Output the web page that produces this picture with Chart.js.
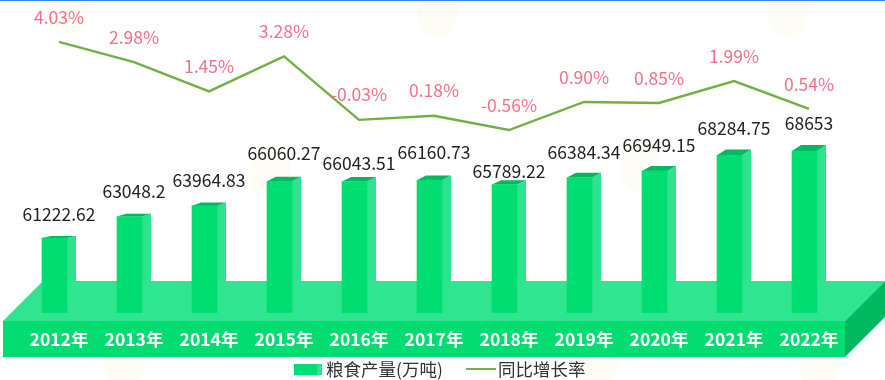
<!DOCTYPE html>
<html>
<head>
<meta charset="utf-8">
<title>粮食产量</title>
<script src="https://cdn.jsdelivr.net/npm/chart.js@4/dist/chart.umd.min.js"></script>
<style>
  html, body { margin: 0; padding: 0; background: #fff; overflow: hidden; }
  #topLine { position: absolute; left: 0; top: 0; width: 885px; height: 1px; background: #3b86f0; }
  #grainChart { display: block; }
</style>
</head>
<body>
<canvas id="grainChart" width="885" height="380"></canvas>
<div id="topLine"></div>
<script>
const years = ["2012年", "2013年", "2014年", "2015年", "2016年", "2017年", "2018年", "2019年", "2020年", "2021年", "2022年"];
const grainOutput = [61222.62, 63048.2, 63964.83, 66060.27, 66043.51, 66160.73, 65789.22, 66384.34, 66949.15, 68284.75, 68653];
const growthRate = [4.03, 2.98, 1.45, 3.28, -0.03, 0.18, -0.56, 0.90, 0.85, 1.99, 0.54];
// how far each output label sits above its bar
const outputLabelLift = [24, 25, 26, 28, 18, 28, 13, 25, 26, 27, 28];
// pale bee watermark spots
const beeSpots = [[68, 8], [270, 172], [438, 10], [640, 165], [788, 10], [820, 362], [125, 362], [600, 358]];

const FONT = '"Noto Sans CJK SC", "Noto Sans", sans-serif';
const FRONT = "#00de72";
const SIDE = "#2fe38e";
const ROOF = "#00b85f";
const LINE = "#72b043";

function fillPoly(ctx, color, pts) {
  ctx.fillStyle = color;
  ctx.beginPath();
  pts.forEach((p, i) => (i ? ctx.lineTo(p[0], p[1]) : ctx.moveTo(p[0], p[1])));
  ctx.closePath();
  ctx.fill();
}

const stagePlugin = {
  id: "stage",
  // bars sit left of the category centre, the side face fills the rest
  afterDatasetsUpdate(chart) {
    chart.getDatasetMeta(0).data.forEach((bar) => { bar.x -= 4.5; });
  },
  // runs before the axes so the year labels land on top of the floor
  beforeDraw(chart) {
    const { ctx, chartArea: a } = chart;
    const floorBack = a.bottom - 32;
    const floorFront = a.bottom + 8;
    const floorLow = a.bottom + 44;
    const left = a.left - 18.5;
    const right = a.right - 1.5;
    const depth = 40;

    ctx.save();
    beeSpots.forEach(([x, y]) => {
      ctx.fillStyle = "#fdfcf5";
      ctx.beginPath();
      ctx.ellipse(x, y, 20, 28, 0.2, 0, Math.PI * 2);
      ctx.fill();
    });

    fillPoly(ctx, "#30e58f", [[left, floorFront], [left + depth, floorBack], [right + depth, floorBack], [right, floorFront]]);
    fillPoly(ctx, "#02dc71", [[left, floorFront], [right, floorFront], [right, floorLow], [left, floorLow]]);
    fillPoly(ctx, ROOF, [[right, floorFront], [right + depth, floorBack], [right + depth, floorLow - depth], [right, floorLow]]);

    chart.getDatasetMeta(0).data.forEach((bar) => {
      const l = bar.x - bar.width / 2;
      const r = bar.x + bar.width / 2;
      const rise = (floorBack - bar.y) / 22;
      fillPoly(ctx, SIDE, [[r, bar.y], [r + 9, bar.y - rise], [r + 9, floorBack], [r, floorBack]]);
      fillPoly(ctx, ROOF, [[l, bar.y], [l + 9, bar.y - rise], [r + 9, bar.y - rise], [r, bar.y]]);
    });
    ctx.restore();
  },
  afterDatasetsDraw(chart) {
    const { ctx, data } = chart;
    ctx.save();
    ctx.font = "17.5px " + FONT;
    ctx.textAlign = "center";
    ctx.textBaseline = "middle";

    ctx.fillStyle = "#222";
    chart.getDatasetMeta(0).data.forEach((bar, i) => {
      ctx.fillText(String(grainOutput[i]), bar.x + 4.5, bar.y - outputLabelLift[i]);
    });

    ctx.fillStyle = "#f4708a";
    chart.getDatasetMeta(1).data.forEach((pt, i) => {
      ctx.fillText(growthRate[i].toFixed(2) + "%", pt.x, pt.y - 25);
    });

    // legend, the built-in one can't do the two-tone swatch or these tight gaps
    ctx.textAlign = "left";
    ctx.fillStyle = FRONT;
    ctx.fillRect(294, 364, 23, 11);
    ctx.fillStyle = SIDE;
    ctx.fillRect(317, 364, 5, 11);
    ctx.strokeStyle = LINE;
    ctx.lineWidth = 2;
    ctx.beginPath();
    ctx.moveTo(466, 369);
    ctx.lineTo(496, 369);
    ctx.stroke();
    ctx.fillStyle = "#333";
    ctx.fillText(data.datasets[0].label, 326, 369);
    ctx.fillText(data.datasets[1].label, 498, 369);
    ctx.restore();
  },
};

new Chart(document.getElementById("grainChart"), {
  type: "bar",
  data: {
    labels: years,
    datasets: [
      {
        label: "粮食产量(万吨)",
        data: grainOutput,
        backgroundColor: FRONT,
        barThickness: 25,
        yAxisID: "y",
        order: 2,
      },
      {
        type: "line",
        label: "同比增长率",
        data: growthRate,
        borderColor: LINE,
        backgroundColor: LINE,
        borderWidth: 2.4,
        pointRadius: 0,
        tension: 0,
        yAxisID: "y1",
        order: 1,
      },
    ],
  },
  options: {
    responsive: false,
    animation: false,
    layout: { padding: { left: 21.5, right: 38.5, top: 8, bottom: 30 } },
    plugins: {
      tooltip: { enabled: false },
      legend: { display: false },
    },
    scales: {
      x: {
        grid: { display: false },
        border: { display: false },
        afterFit(scale) { scale.height = 37; },
        ticks: {
          padding: 8,
          color: "#fff",
          maxRotation: 0,
          autoSkip: false,
          font: { family: FONT, size: 17.5, weight: "bold" },
        },
      },
      y: { display: false, min: 54818, max: 80864 },
      y1: { display: false, min: -10.1, max: 5.8 },
    },
  },
  plugins: [stagePlugin],
});
</script>
</body>
</html>
